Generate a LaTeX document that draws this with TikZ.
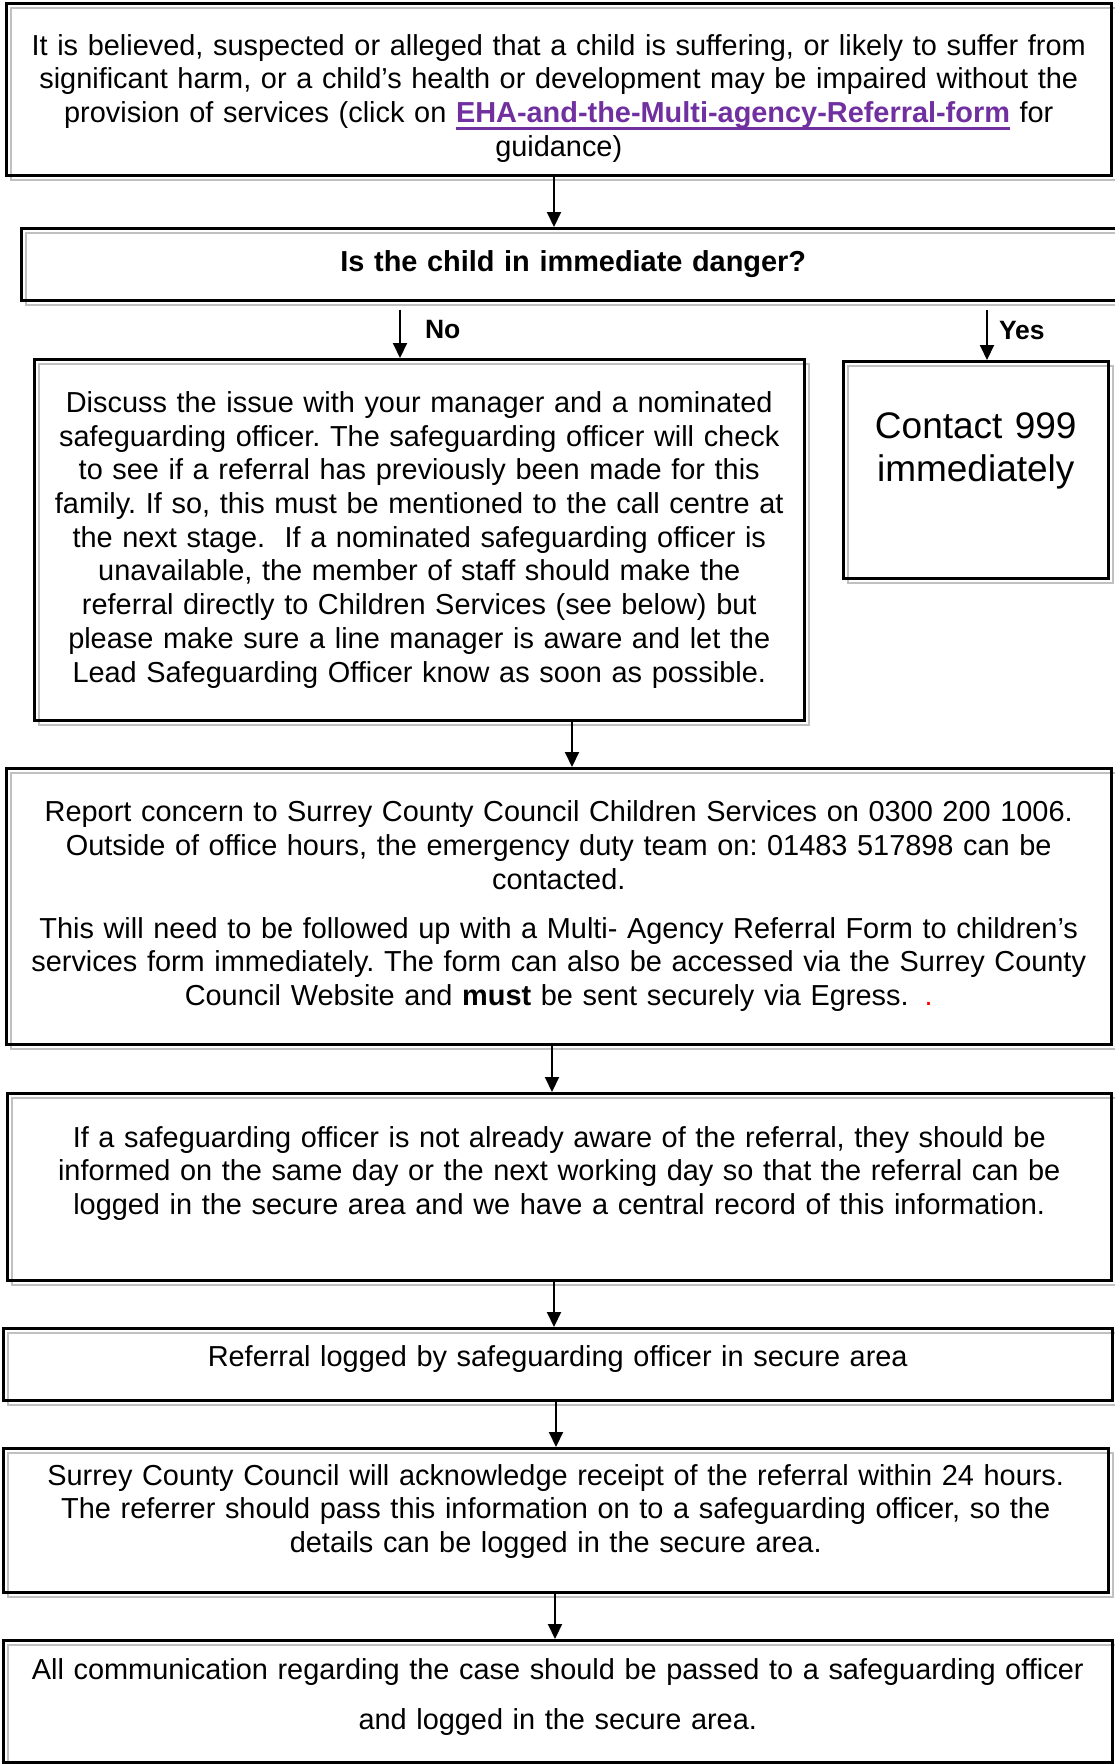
\documentclass[tikz,border=0pt]{standalone}
\usepackage{fontspec}
\setmainfont{Liberation Sans}
\usetikzlibrary{arrows.meta,positioning}
\definecolor{linkpurple}{HTML}{7030A0}
\definecolor{shadowgray}{HTML}{C0C0C0}
\newcommand{\formlink}[1]{\textcolor{linkpurple}{\bfseries\setbox0\hbox{#1}\rlap{\rule[-7pt]{\wd0}{2.5pt}}\box0}}
% shifts the text of a box up (positive) or down (negative)
\newcommand{\liftby}[1]{\par\vspace*{#1}\hrule height 0pt}
\frenchspacing

\begin{document}
\begin{tikzpicture}[x=1pt, y=-1pt,
	flowbox/.style={draw, line width=2.5pt, inner sep=0pt, align=center, anchor=north west,
		font=\fontsize{28.9}{33.7}\selectfont,
		preaction={draw=shadowgray, line width=2pt, transform canvas={shift={(5pt,-5pt)}}}},
	flowarrow/.style={line width=2pt, -{Triangle[length=15pt, width=14pt]}},
	answer/.style={font=\fontsize{26.5}{30}\selectfont\bfseries, inner sep=0pt}]
	\path[use as bounding box] (0,0) rectangle (1115,1764);
	\clip (0,0) rectangle (1115,1764);

	\node[flowbox, minimum width=1105pt, minimum height=172pt, text width=1090pt] (concern) at (5,2)
		{It is believed, suspected or alleged that a child is suffering, or likely to suffer from\\
		significant harm, or a child's health or development may be impaired without the\\
		provision of services (click on \formlink{EHA-and-the-Multi-agency-Referral-form} for\\
		guidance)\liftby{-18pt}};
	\node[flowbox, minimum width=1104pt, minimum height=72pt, text width=1090pt, font=\fontsize{28.9}{33.7}\selectfont\bfseries] (danger) at (20,227)
		{Is the child in immediate danger?};
	\node[flowbox, minimum width=770pt, minimum height=361pt, text width=760pt] (discuss) at (33,358)
		{Discuss the issue with your manager and a nominated\\
		safeguarding officer. The safeguarding officer will check\\
		to see if a referral has previously been made for this\\
		family. If so, this must be mentioned to the call centre at\\
		the next stage.\ \ If a nominated safeguarding officer is\\
		unavailable, the member of staff should make the\\
		referral directly to Children Services (see below) but\\
		please make sure a line manager is aware and let the\\
		Lead Safeguarding Officer know as soon as possible.};
	\node[flowbox, minimum width=265pt, minimum height=217pt, text width=255pt, font=\fontsize{37}{43}\selectfont] (contact) at (842,360)
		{Contact 999\\ immediately\liftby{38pt}};
	\node[flowbox, minimum width=1105pt, minimum height=276pt, text width=1095pt] (report) at (5,767)
		{Report concern to Surrey County Council Children Services on 0300 200 1006.\\
		Outside of office hours, the emergency duty team on: 01483 517898 can be\\
		contacted.\\[15pt]
		This will need to be followed up with a Multi- Agency Referral Form to children's\\
		services form immediately. The form can also be accessed via the Surrey County\\
		Council Website and \textbf{must} be sent securely via Egress.\hspace{16pt}\textcolor{red}{.}};
	\node[flowbox, minimum width=1104pt, minimum height=187pt, text width=1090pt] (inform) at (6,1092)
		{If a safeguarding officer is not already aware of the referral, they should be\\
		informed on the same day or the next working day so that the referral can be\\
		logged in the secure area and we have a central record of this information.\liftby{27pt}};
	\node[flowbox, minimum width=1109pt, minimum height=72pt, text width=1095pt] (logged) at (2,1327)
		{Referral logged by safeguarding officer in secure area\liftby{11pt}};
	\node[flowbox, minimum width=1105pt, minimum height=144pt, text width=1095pt] (acknowledge) at (2,1447)
		{Surrey County Council will acknowledge receipt of the referral within 24 hours.\\
		The referrer should pass this information on to a safeguarding officer, so the\\
		details can be logged in the secure area.\liftby{18pt}};
	\node[flowbox, minimum width=1109pt, minimum height=122pt, text width=1095pt, font=\fontsize{28.9}{50}\selectfont] (communicate) at (2,1639)
		{All communication regarding the case should be passed to a safeguarding officer\\
		and logged in the secure area.\liftby{9pt}};

	% connectors
	\draw[flowarrow] (concern.south -| 554,0) -- (danger.north -| 554,0);
	\draw[flowarrow] ([yshift=-8pt]danger.south -| 400,0) -- node[answer, right=24pt, yshift=4pt] (no) {No} (discuss.north -| 400,0);
	\draw[flowarrow] ([yshift=-8pt]danger.south -| 987,0) -- node[answer, right=11pt, yshift=4pt] (yes) {Yes} (contact.north -| 987,0);
	\draw[flowarrow] (discuss.south -| 572,0) -- (report.north -| 572,0);
	\draw[flowarrow] (report.south -| 552,0) -- (inform.north -| 552,0);
	\draw[flowarrow] (inform.south -| 554,0) -- (logged.north -| 554,0);
	\draw[flowarrow] (logged.south -| 556,0) -- (acknowledge.north -| 556,0);
	\draw[flowarrow] (acknowledge.south -| 555,0) -- (communicate.north -| 555,0);
\end{tikzpicture}
\end{document}
